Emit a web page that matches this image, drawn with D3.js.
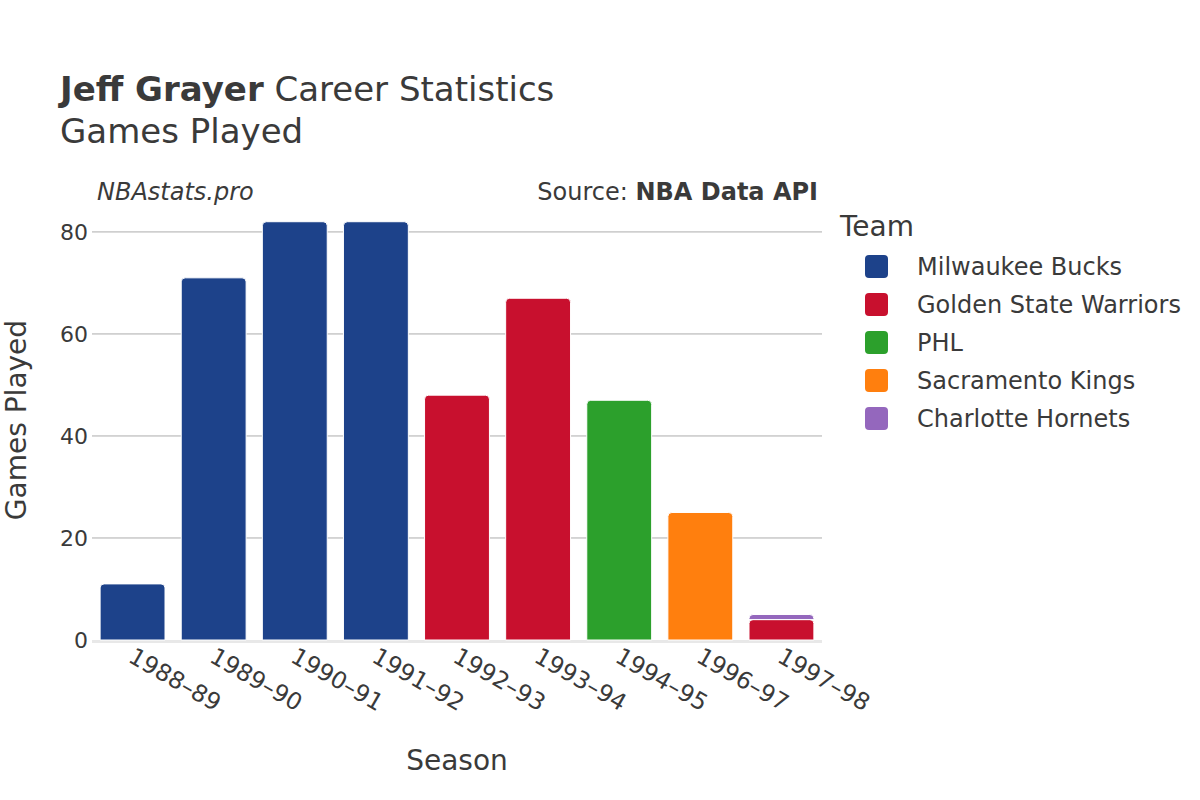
<!DOCTYPE html>
<html><head><meta charset="utf-8">
<script src="https://cdn.jsdelivr.net/npm/d3@7"></script>
<style>body{margin:0;background:#fff;} text{font-family:"DejaVu Sans",sans-serif;fill:#3a3a3a;}</style>
</head><body>
<svg id="c" width="1200" height="800"></svg>
<script>
const seasons = ["1988–89","1989–90","1990–91","1991–92","1992–93","1993–94","1994–95","1996–97","1997–98"];
const teams = ["Milwaukee Bucks","Golden State Warriors","PHL","Sacramento Kings","Charlotte Hornets"];
const teamColors = ["#1d428a","#c8102e","#2ca02c","#ff7f0e","#9467bd"];
// games per season per team (stacked in team order)
const bucksGames   = [11,71,82,82,0,0,0,0,0];
const warriorsGames= [0,0,0,0,48,67,0,0,4];
const phlGames     = [0,0,0,0,0,0,47,0,0];
const kingsGames   = [0,0,0,0,0,0,0,25,0];
const hornetsGames = [0,0,0,0,0,0,0,0,1];
const yTicks = [0,20,40,60,80];

const series = [bucksGames,warriorsGames,phlGames,kingsGames,hornetsGames];
const svg = d3.select("#c");
const m = {l:92, r:822, t:210, b:640};
const x = d3.scaleBand().domain(seasons).range([m.l,m.r]).paddingInner(0.2).paddingOuter(0.1);
const y = d3.scaleLinear().domain([0,84.3]).range([m.b,m.t]);
const color = d3.scaleOrdinal().domain(teams).range(teamColors);

// gridlines
svg.append("g").selectAll("line").data(yTicks.filter(d=>d>0)).join("line")
  .attr("x1",m.l).attr("x2",m.r).attr("y1",d=>y(d)).attr("y2",d=>y(d))
  .attr("stroke","#acacac").attr("stroke-width",1);
svg.append("line").attr("x1",m.l).attr("x2",m.r).attr("y1",y(0)+1.5).attr("y2",y(0)+1.5)
  .attr("stroke","#e8e8e8").attr("stroke-width",3);

// stacked data
const rows = seasons.map((s,i)=>{const o={season:s}; teams.forEach((t,j)=>o[t]=series[j][i]); return o;});
const stacked = d3.stack().keys(teams)(rows);

function topRounded(x0,y0,w,h,r){
  r=Math.min(r,h,w/2);
  return `M${x0},${y0+h}V${y0+r}Q${x0},${y0} ${x0+r},${y0}H${x0+w-r}Q${x0+w},${y0} ${x0+w},${y0+r}V${y0+h}Z`;
}
const g = svg.append("g");
stacked.forEach(layer=>{
  g.append("g").selectAll("path").data(layer.filter(d=>d[1]-d[0]>0)).join("path")
    .attr("d",d=>{const x0=x(d.data.season), w=x.bandwidth(), y1=y(d[1]), y0=y(d[0]); return topRounded(x0,y1,w,y0-y1,4);})
    .attr("fill",color(layer.key)).attr("stroke","#fff").attr("stroke-width",1);
});

// y axis labels
const ya = svg.append("g").attr("transform",`translate(${m.l-4},0)`)
  .call(d3.axisLeft(y).tickValues(yTicks).tickSize(0).tickPadding(0));
ya.select(".domain").remove();
ya.selectAll("text").attr("font-size",22).attr("dy","0.35em").style("font-family","DejaVu Sans").attr("fill","#3a3a3a");

// x axis labels
const xa = svg.append("g").attr("transform",`translate(0,${m.b})`)
  .call(d3.axisBottom(x).tickSize(0).tickPadding(0));
xa.select(".domain").remove();
xa.selectAll("text").attr("font-size",23.5).style("font-family","DejaVu Sans").attr("fill","#3a3a3a")
  .attr("text-anchor","start").attr("dy",null).attr("y",0)
  .attr("transform",d=>`translate(${-x.bandwidth()/2+27},21) rotate(30)`);

// titles
const t = svg.append("text").attr("x",60).attr("y",101).attr("font-size",34);
t.append("tspan").attr("font-weight","bold").text("Jeff Grayer");
t.append("tspan").text(" Career Statistics");
svg.append("text").attr("x",60).attr("y",143).attr("font-size",34).text("Games Played");
svg.append("text").attr("x",97).attr("y",200).attr("font-size",24).attr("font-style","italic").text("NBAstats.pro");
const s = svg.append("text").attr("x",818).attr("y",200).attr("font-size",24).attr("text-anchor","end");
s.append("tspan").text("Source: ");
s.append("tspan").attr("font-weight","bold").text("NBA Data API");

svg.append("text").attr("x",457).attr("y",770).attr("font-size",28).attr("text-anchor","middle").text("Season");
svg.append("text").attr("transform","translate(26,420) rotate(-90)").attr("font-size",28).attr("text-anchor","middle").text("Games Played");

// legend
svg.append("text").attr("x",840).attr("y",236).attr("font-size",28).text("Team");
const lg = svg.append("g").selectAll("g").data(teams).join("g")
  .attr("transform",(d,i)=>`translate(865,${266+i*38})`);
lg.append("rect").attr("x",0).attr("y",-11).attr("width",23).attr("height",23).attr("rx",4).attr("fill",d=>color(d));
lg.append("text").attr("x",52).attr("y",1).attr("dy","0.35em").attr("font-size",24).text(d=>d);
</script>
</body></html>
